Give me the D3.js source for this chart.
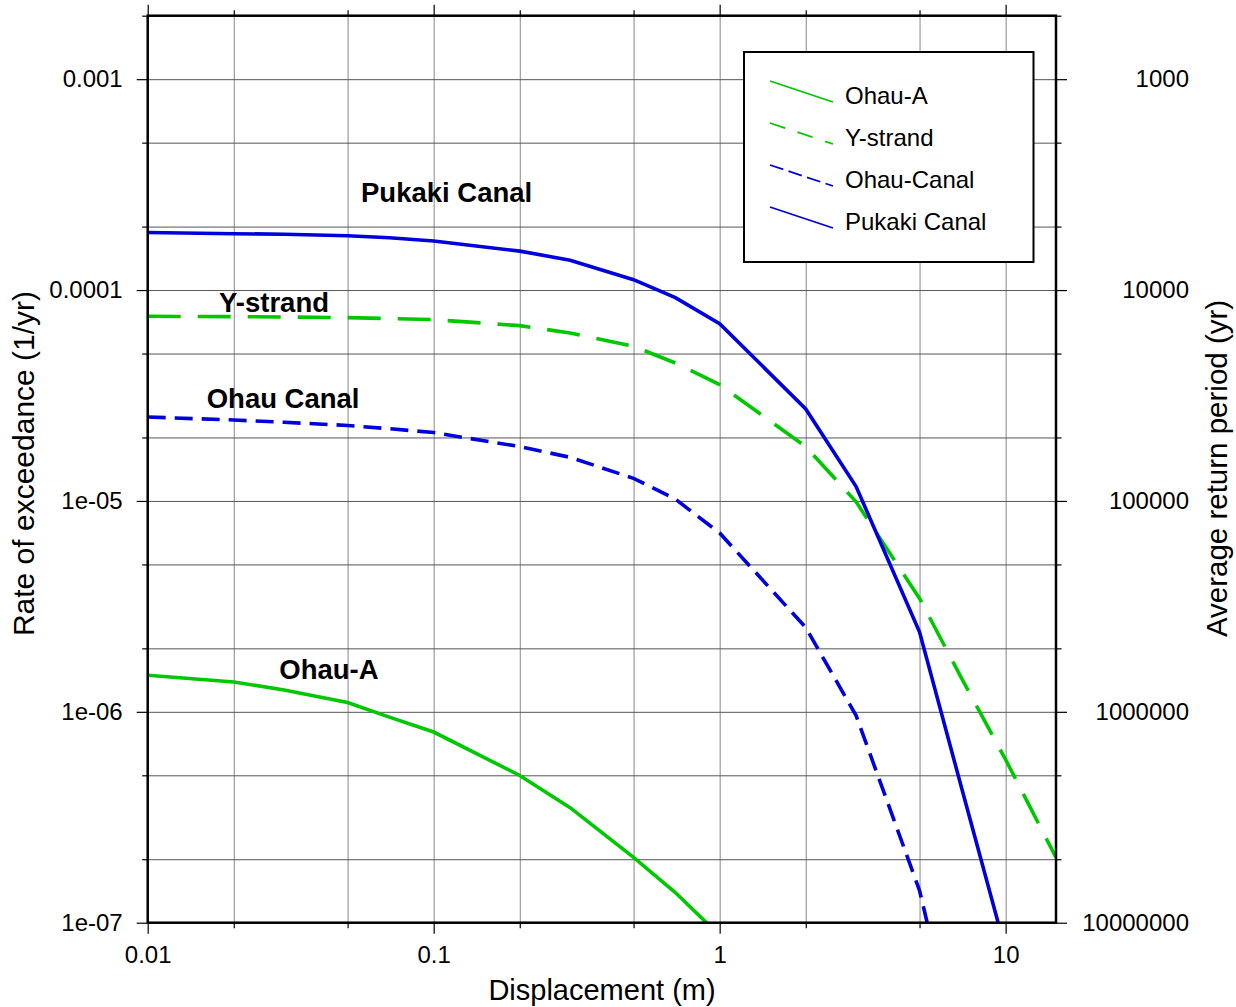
<!DOCTYPE html>
<html>
<head>
<meta charset="utf-8">
<script src="https://cdn.jsdelivr.net/npm/d3@7"></script>
<style>
  html, body { margin: 0; padding: 0; background: #fff; }
  svg { display: block; font-family: "Liberation Sans", Arial, Helvetica, sans-serif; }
</style>
</head>
<body>
<svg id="chart" width="1236" height="1007"></svg>
<script>
// ---------------- data ----------------
const displacement = [0.01, 0.02, 0.03, 0.05, 0.07, 0.1, 0.2, 0.3, 0.5, 0.7, 1, 2, 3, 5, 7, 10, 15];

const pukakiCanal = [1.876e-4, 1.85e-4, 1.84e-4, 1.81e-4, 1.77e-4, 1.71e-4, 1.53e-4, 1.385e-4, 1.12e-4, 9.2e-5,
                     6.93e-5, 2.73e-5, 1.17e-5, 2.39e-6, 4.4e-7, 7.4e-8, 1e-8];
const yStrand     = [7.51e-5, 7.48e-5, 7.45e-5, 7.40e-5, 7.33e-5, 7.24e-5, 6.78e-5, 6.26e-5, 5.41e-5, 4.51e-5,
                     3.56e-5, 1.81e-5, 9.9e-6, 3.45e-6, 1.45e-6, 5.93e-7, 2.04e-7];
const ohauCanal   = [2.50e-5, 2.42e-5, 2.36e-5, 2.28e-5, 2.20e-5, 2.11e-5, 1.81e-5, 1.61e-5, 1.28e-5, 1.02e-5,
                     7.05e-6, 2.51e-6, 9.6e-7, 1.42e-7, 2.1e-8];
const ohauA       = [1.49e-6, 1.385e-6, 1.27e-6, 1.108e-6, 9.44e-7, 8.02e-7, 4.99e-7, 3.51e-7, 2.04e-7, 1.39e-7, 8.7e-8];

const seriesNames = ["Ohau-A", "Y-strand", "Ohau-Canal", "Pukaki Canal"];
const seriesValues = [ohauA, yStrand, ohauCanal, pukakiCanal];

const rateTicks = [1e-3, 1e-4, 1e-5, 1e-6, 1e-7];
const rateLabels = ["0.001", "0.0001", "1e-05", "1e-06", "1e-07"];
const periodLabels = ["1000", "10000", "100000", "1000000", "10000000"];
const rateMinorTicks = [2e-3, 5e-4, 2e-4, 5e-5, 2e-5, 5e-6, 2e-6, 5e-7, 2e-7];
const dispTicks = [0.01, 0.1, 1, 10];
const dispLabels = ["0.01", "0.1", "1", "10"];
const dispMinorTicks = [0.02, 0.05, 0.2, 0.5, 2, 5];

const annotationText = ["Pukaki Canal", "Y-strand", "Ohau Canal", "Ohau-A"];
const annotationX = [0.0557, 0.01775, 0.01608, 0.02885];
const annotationY = [2.624e-4, 7.89e-5, 2.749e-5, 1.426e-6];

// ---------------- styles ----------------
const styles = [
  { color: "#00c800", dash: null, legendDash: null },
  { color: "#00c800", dash: "33,17", legendDash: "16,13" },
  { color: "#0000dc", dash: "18,9", legendDash: "14,5.5" },
  { color: "#0000dc", dash: null, legendDash: null }
];

// ---------------- layout ----------------
const L = 147.7, R = 1056, T = 15.7, B = 922.7;
const svg = d3.select("#chart");

const x = d3.scaleLog().domain([0.01, 15]).range([L, R]);
const y = d3.scaleLog().domain([1e-7, 2e-3]).range([B, T]);

const fontTick = "24px";
const gridColor = "#555";

// gridlines
const gridX = svg.append("g").attr("transform", `translate(0,${B})`)
  .call(d3.axisBottom(x).tickValues(dispTicks.concat(dispMinorTicks)).tickSize(-(B - T)).tickFormat(""));
gridX.select(".domain").remove();
gridX.selectAll("line").attr("stroke", gridColor).attr("stroke-opacity", 0.7).attr("stroke-width", 1);

const gridY = svg.append("g").attr("transform", `translate(${L},0)`)
  .call(d3.axisLeft(y).tickValues(rateTicks.concat(rateMinorTicks)).tickSize(-(R - L)).tickFormat(""));
gridY.select(".domain").remove();
gridY.selectAll("line").attr("stroke", gridColor).attr("stroke-width", 1);

// clip
svg.append("defs").append("clipPath").attr("id", "plotclip")
  .append("rect").attr("x", L).attr("y", T).attr("width", R - L).attr("height", B - T);

// data lines
const line = d3.line()
  .defined(d => d[1] != null)
  .x(d => x(d[0]))
  .y(d => y(d[1]));

const plot = svg.append("g").attr("clip-path", "url(#plotclip)");
seriesValues.forEach((vals, i) => {
  const pts = vals.map((v, j) => [displacement[j], v]);
  plot.append("path")
    .attr("d", line(pts))
    .attr("fill", "none")
    .attr("stroke", styles[i].color)
    .attr("stroke-width", 3.6)
    .attr("stroke-linejoin", "miter")
    .attr("stroke-dasharray", styles[i].dash);
});

// axes helpers
function styleAxis(g) {
  g.select(".domain").remove();
  g.selectAll("line").attr("stroke", "#000").attr("stroke-width", 1.2);
  g.selectAll("text").attr("fill", "#000").style("font-size", fontTick)
    .style("font-family", '"Liberation Sans", Arial, Helvetica, sans-serif');
}

// left axis
const leftMaj = svg.append("g").attr("transform", `translate(${L},0)`)
  .call(d3.axisLeft(y).tickValues(rateTicks).tickSize(11).tickPadding(14)
    .tickFormat((d, i) => rateLabels[i]));
styleAxis(leftMaj);
const leftMin = svg.append("g").attr("transform", `translate(${L},0)`)
  .call(d3.axisLeft(y).tickValues(rateMinorTicks).tickSize(5.5).tickFormat(""));
styleAxis(leftMin);

// right axis (return period)
const rightMaj = svg.append("g").attr("transform", `translate(${R},0)`)
  .call(d3.axisRight(y).tickValues(rateTicks).tickSize(11).tickPadding(14)
    .tickFormat((d, i) => periodLabels[i]));
styleAxis(rightMaj);
rightMaj.selectAll("text").attr("text-anchor", "end").attr("x", 1189 - R);
const rightMin = svg.append("g").attr("transform", `translate(${R},0)`)
  .call(d3.axisRight(y).tickValues(rateMinorTicks).tickSize(5.5).tickFormat(""));
styleAxis(rightMin);

// bottom axis
const botMaj = svg.append("g").attr("transform", `translate(0,${B})`)
  .call(d3.axisBottom(x).tickValues(dispTicks).tickSize(11).tickPadding(12.3)
    .tickFormat((d, i) => dispLabels[i]));
styleAxis(botMaj);
const botMin = svg.append("g").attr("transform", `translate(0,${B})`)
  .call(d3.axisBottom(x).tickValues(dispMinorTicks).tickSize(5.5).tickFormat(""));
styleAxis(botMin);

// top axis ticks
const topMaj = svg.append("g").attr("transform", `translate(0,${T})`)
  .call(d3.axisTop(x).tickValues(dispTicks).tickSize(11).tickFormat(""));
styleAxis(topMaj);
const topMin = svg.append("g").attr("transform", `translate(0,${T})`)
  .call(d3.axisTop(x).tickValues(dispMinorTicks).tickSize(5.5).tickFormat(""));
styleAxis(topMin);

// frame
svg.append("rect")
  .attr("x", L).attr("y", T).attr("width", R - L).attr("height", B - T)
  .attr("fill", "none").attr("stroke", "#000").attr("stroke-width", 2.5);

// axis titles
svg.append("text")
  .attr("x", 602).attr("y", 1000)
  .attr("text-anchor", "middle")
  .style("font-size", "29px")
  .text("Displacement (m)");

svg.append("text")
  .attr("transform", `translate(34,${(290 + 637) / 2}) rotate(-90)`)
  .attr("text-anchor", "middle")
  .style("font-size", "30px")
  .text("Rate of exceedance (1/yr)");

svg.append("text")
  .attr("transform", `translate(1227,${(300 + 637) / 2}) rotate(-90)`)
  .attr("text-anchor", "middle")
  .style("font-size", "29.5px")
  .text("Average return period (yr)");

// annotations
annotationText.forEach((t, i) => {
  svg.append("text")
    .attr("x", x(annotationX[i])).attr("y", y(annotationY[i]))
    .style("font-size", "27.5px").style("font-weight", "bold")
    .text(t);
});

// legend
const lg = svg.append("g");
lg.append("rect")
  .attr("x", 744).attr("y", 52).attr("width", 289.5).attr("height", 210)
  .attr("fill", "#fff").attr("stroke", "#000").attr("stroke-width", 2);
seriesNames.forEach((name, i) => {
  const base = 104 + 42 * i;
  lg.append("line")
    .attr("x1", 770).attr("y1", base - 23)
    .attr("x2", 833).attr("y2", base - 2)
    .attr("stroke", styles[i].color)
    .attr("stroke-width", 1.8)
    .attr("stroke-dasharray", styles[i].legendDash);
  lg.append("text")
    .attr("x", 845).attr("y", base)
    .style("font-size", "24px")
    .text(name);
});
</script>
</body>
</html>
